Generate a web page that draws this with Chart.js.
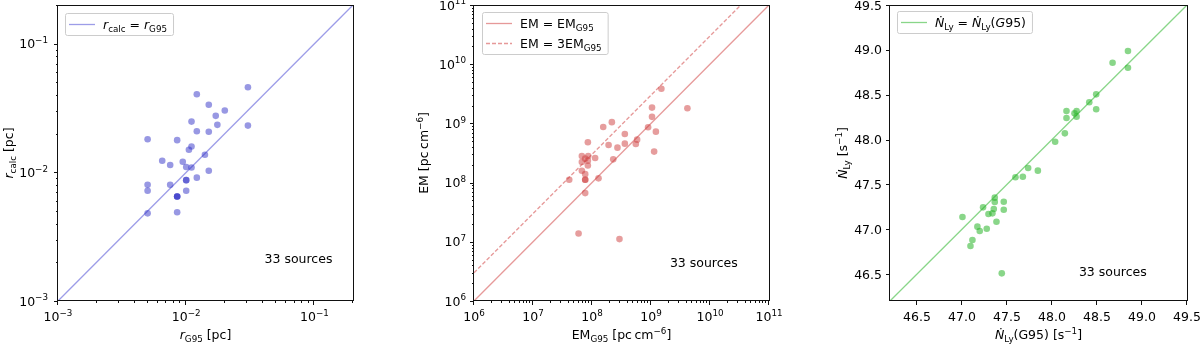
<!DOCTYPE html>
<html>
<head>
<meta charset="utf-8">
<script src="https://cdn.jsdelivr.net/npm/chart.js@4.4.0/dist/chart.umd.min.js"></script>
<style>
html, body { margin: 0; padding: 0; background: #fff; }
#wrap { position: relative; width: 1200px; height: 344px; }
canvas { position: absolute; top: 0; }
</style>
</head>
<body>
<div id="wrap">
<canvas id="c1" width="400" height="344" style="left:0px"></canvas>
<canvas id="c2" width="400" height="344" style="left:400px"></canvas>
<canvas id="c3" width="400" height="344" style="left:800px"></canvas>
</div>
<script>
// ---- panel 1: radius [pc]
const rG95 = [0.0303, 0.0303, 0.0121, 0.0150, 0.0200, 0.0170, 0.0175, 0.0110, 0.0121, 0.0150,
              0.0050, 0.0085, 0.0110, 0.0105, 0.0140, 0.0065, 0.0075, 0.0094, 0.0100, 0.0110,
              0.0150, 0.0121, 0.0100, 0.0100, 0.0050, 0.0075, 0.0050, 0.0100, 0.0085, 0.0085,
              0.0085, 0.0050, 0.0085];
const rCalc = [0.0459, 0.0231, 0.0405, 0.0335, 0.0303, 0.0275, 0.0234, 0.0248, 0.0209, 0.0207,
               0.0181, 0.0178, 0.0159, 0.0150, 0.0137, 0.0123, 0.0114, 0.0121, 0.0110, 0.0109,
               0.0103, 0.0091, 0.0087, 0.0087, 0.0080, 0.0080, 0.0072, 0.0072, 0.0065, 0.0065,
               0.0065, 0.0048, 0.0049];
const rTicks = [1e-3, 1e-2, 1e-1];
const rTickLabels = ['10^\u22123', '10^\u22122', '10^\u22121'];

// ---- panel 2: emission measure [pc cm^-6]
const emG95 = [1.50e9, 1.04e9, 4.14e9, 1.04e9, 2.17e8, 1.55e8, 8.93e8, 1.21e9, 3.60e8, 8.51e7,
               1.91e8, 3.60e8, 5.53e8, 5.82e8, 2.70e8, 1.13e9, 6.73e7, 8.63e7, 1.13e8, 7.67e7,
               8.51e7, 6.73e7, 8.51e7, 6.73e7, 7.67e7, 4.11e7, 7.67e7, 7.67e7, 1.29e8, 7.67e7,
               2.29e8, 5.92e7, 2.92e8];
const emCalc = [3.84e9, 1.85e9, 1.80e9, 1.29e9, 1.05e9, 8.70e8, 8.60e8, 7.26e8, 6.64e8, 4.80e8,
                4.32e8, 4.55e8, 4.49e8, 5.32e8, 3.89e8, 3.34e8, 2.81e8, 2.81e8, 2.60e8, 2.54e8,
                2.35e8, 2.23e8, 1.95e8, 1.59e8, 1.39e8, 1.12e8, 1.12e8, 1.12e8, 1.18e8, 6.65e7,
                2.47e8, 1.38e7, 1.11e7];
const emTicks = [1e6, 1e7, 1e8, 1e9, 1e10, 1e11];
const emTickLabels = ['10^6', '10^7', '10^8', '10^9', '10^10', '10^11'];

// ---- panel 3: log Lyman continuum rate [s^-1]
const nlyG95 = [48.844, 48.844, 48.673, 48.491, 48.414, 48.491, 48.161, 48.161, 48.273, 48.250,
                48.273, 48.143, 48.035, 47.843, 47.735, 47.676, 47.594, 47.364, 47.364, 47.464,
                47.234, 47.353, 47.464, 47.294, 47.338, 47.383, 47.005, 47.171, 47.197, 47.275,
                47.116, 47.094, 47.442];
const nlyCalc = [48.987, 48.801, 48.857, 48.504, 48.415, 48.337, 48.318, 48.240, 48.318, 48.292,
                 48.255, 48.069, 47.976, 47.653, 47.683, 47.586, 47.579, 47.352, 47.304, 47.307,
                 47.244, 47.226, 47.218, 47.170, 47.177, 47.084, 47.136, 47.029, 46.980, 47.006,
                 46.880, 46.813, 46.508];
const nlyTicks = [46.5, 47.0, 47.5, 48.0, 48.5, 49.0, 49.5];
const nlyTickLabels = ['46.5', '47.0', '47.5', '48.0', '48.5', '49.0', '49.5'];

const FONT = '"DejaVu Sans", sans-serif';
const FS = 12.5;

// rich text pieces: italic, subscript, superscript
const T = t => ({ t: t });
const I = t => ({ t: t, it: true });
const SUB = t => ({ t: t, sub: true });
const SUP = t => ({ t: t, sup: true });

// "10^-3" -> base + superscript
let tickParts = function(s) {
    let bits = s.split('^');
    return bits.length > 1 ? [T(bits[0]), SUP(bits[1])] : [T(s)];
}

let partFont = function(p) {
    let size = (p.sub || p.sup) ? FS * 0.7 : FS;
    return (p.it ? 'italic ' : '') + size + 'px ' + FONT;
}

let richWidth = function(ctx, parts) {
    let w = 0;
    for (let p of parts) {
        ctx.font = partFont(p);
        w += ctx.measureText(p.t).width;
    }
    return w;
}

let drawRich = function(ctx, parts, x, y) {
    ctx.textBaseline = 'alphabetic';
    ctx.textAlign = 'left';
    for (let p of parts) {
        ctx.font = partFont(p);
        let dy = p.sub ? FS * 0.25 : (p.sup ? -FS * 0.42 : 0);
        ctx.fillText(p.t, x, y + dy);
        x += ctx.measureText(p.t).width;
    }
}

let logMinors = function(min, max) {
    let out = [];
    for (let d = Math.floor(Math.log10(min)); Math.pow(10, d) <= max; d++) {
        for (let m = 2; m <= 9; m++) {
            let v = m * Math.pow(10, d);
            if (v >= min * 0.999 && v <= max * 1.001) out.push(v);
        }
    }
    return out;
}

let decoPlugin = {
    id: 'deco',
    afterDraw: function(chart) {
        let o = chart.options.plugins.deco;
        let ctx = chart.ctx;
        let a = chart.chartArea;
        let xs = chart.scales.x, ys = chart.scales.y;
        ctx.save();

        // frame
        ctx.strokeStyle = '#111';
        ctx.lineWidth = 1;
        ctx.strokeRect(Math.round(a.left) - 0.5, Math.round(a.top) + 0.5,
                       Math.round(a.right - a.left) + 1, Math.round(a.bottom - a.top) - 1);

        // ticks
        let tick = function(scale, v, len) {
            ctx.beginPath();
            if (scale === xs) {
                let p = Math.round(xs.getPixelForValue(v)) - 0.5;
                ctx.moveTo(p, a.bottom); ctx.lineTo(p, a.bottom + len);
            } else {
                let p = Math.round(ys.getPixelForValue(v)) + 0.5;
                ctx.moveTo(a.left, p); ctx.lineTo(a.left - len, p);
            }
            ctx.stroke();
        }
        for (let s of [xs, ys]) {
            for (let v of o.majors) tick(s, v, 4);
            if (o.log) for (let v of logMinors(s.min, s.max)) tick(s, v, 2);
        }

        // tick labels
        ctx.fillStyle = '#000';
        o.majors.forEach(function(v, i) {
            let parts = tickParts(o.labels[i]);
            let w = richWidth(ctx, parts);
            drawRich(ctx, parts, xs.getPixelForValue(v) - w / 2, a.bottom + 20);
            drawRich(ctx, parts, a.left - o.ypad - w, ys.getPixelForValue(v) + FS * 0.36);
        });

        // axis titles
        let w = richWidth(ctx, o.xtitle);
        drawRich(ctx, o.xtitle, (a.left + a.right) / 2 - w / 2, 339);
        w = richWidth(ctx, o.ytitle);
        ctx.save();
        ctx.translate(a.left + o.ytitleX, (a.top + a.bottom) / 2);
        ctx.rotate(-Math.PI / 2);
        drawRich(ctx, o.ytitle, -w / 2, FS * 0.38);
        ctx.restore();

        // note
        drawRich(ctx, [T('33 sources')], a.left + o.note[0] * (a.right - a.left),
                 a.bottom - o.note[1] * (a.bottom - a.top) + FS * 0.38);

        // legend
        let rows = o.legend;
        let tw = Math.max(...rows.map(r => richWidth(ctx, r.parts)));
        let bx = a.left + o.legendAt[0], by = a.top + o.legendAt[1];
        let bw = 38 + tw + 6, bh = 2 + rows.length * 20;
        ctx.fillStyle = 'rgba(255,255,255,0.8)';
        ctx.strokeStyle = '#cccccc';
        ctx.beginPath();
        ctx.roundRect(bx + 0.5, by + 0.5, bw, bh, 2);
        ctx.fill();
        ctx.stroke();
        rows.forEach(function(r, i) {
            let cy = by + 11 + i * 20;
            ctx.strokeStyle = o.lineColor;
            ctx.lineWidth = 1.3;
            ctx.setLineDash(r.dash ? [4, 2] : []);
            ctx.beginPath();
            ctx.moveTo(bx + 4, cy + 0.5); ctx.lineTo(bx + 30, cy + 0.5);
            ctx.stroke();
            ctx.setLineDash([]);
            ctx.fillStyle = '#000';
            drawRich(ctx, r.parts, bx + 38, cy + FS * 0.38);
        });
        ctx.restore();
    }
}

let makePanel = function(id, cfg) {
    let axis = function(which) {
        let ax = {
            type: cfg.type,
            min: cfg.min,
            max: cfg.max,
            grid: { display: false },
            border: { display: false },
            ticks: { display: false },
            afterBuildTicks: function(scale) {
                scale.ticks = cfg.majors.map(v => ({ value: v }));
            }
        };
        if (which === 'x') {
            ax.afterFit = function(scale) { scale.height = 344 - 301; };
        } else {
            ax.afterFit = function(scale) { scale.width = cfg.left; };
        }
        return ax;
    }
    return new Chart(document.getElementById(id), {
        type: 'scatter',
        data: {
            datasets: [
                {
                    data: cfg.xs.map((x, i) => ({ x: x, y: cfg.ys[i] })),
                    pointBackgroundColor: cfg.pointColor,
                    pointBorderWidth: 0,
                    pointRadius: 3.3,
                    order: 1
                }
            ].concat(cfg.lines.map(l => ({
                data: l.data,
                showLine: true,
                pointRadius: 0,
                borderColor: cfg.lineColor,
                borderWidth: 1.3,
                borderDash: l.dash ? [4, 2] : [],
                order: 2
            })))
        },
        options: {
            responsive: false,
            animation: false,
            devicePixelRatio: 1,
            layout: { padding: { left: 0, top: 5, right: 400 - cfg.right, bottom: 0 } },
            scales: { x: axis('x'), y: axis('y') },
            plugins: {
                legend: { display: false },
                tooltip: { enabled: false },
                deco: {
                    majors: cfg.majors,
                    labels: cfg.labels,
                    ypad: cfg.ypad,
                    log: cfg.type === 'logarithmic',
                    xtitle: cfg.xtitle,
                    ytitle: cfg.ytitle,
                    ytitleX: cfg.ytitleX,
                    note: cfg.note,
                    legend: cfg.legend,
                    legendAt: cfg.legendAt,
                    lineColor: cfg.lineColor
                }
            }
        },
        plugins: [decoPlugin]
    });
}

makePanel('c1', {
    type: 'logarithmic', min: 1e-3, max: 0.2,
    majors: rTicks, labels: rTickLabels,
    xs: rG95, ys: rCalc,
    left: 58, right: 353, ypad: 10,
    pointColor: 'rgba(50,50,200,0.5)', lineColor: 'rgba(60,60,210,0.5)',
    lines: [{ data: [{ x: 1e-3, y: 1e-3 }, { x: 0.2, y: 0.2 }] }],
    xtitle: [I('r'), SUB('G95'), T(' [pc]')],
    ytitle: [I('r'), SUB('calc'), T(' [pc]')],
    ytitleX: -50,
    note: [0.70, 0.145],
    legend: [{ parts: [I('r'), SUB('calc'), T(' = '), I('r'), SUB('G95')] }],
    legendAt: [7, 8]
});

makePanel('c2', {
    type: 'logarithmic', min: 1e6, max: 1e11,
    majors: emTicks, labels: emTickLabels,
    xs: emG95, ys: emCalc,
    left: 74, right: 369, ypad: 8,
    pointColor: 'rgba(205,60,60,0.5)', lineColor: 'rgba(210,70,70,0.55)',
    lines: [
        { data: [{ x: 1e6, y: 1e6 }, { x: 1e11, y: 1e11 }] },
        { data: [{ x: 1e6, y: 3e6 }, { x: 1e11 / 3, y: 1e11 }], dash: true }
    ],
    xtitle: [T('EM'), SUB('G95'), T(' [pc\u2009cm'), SUP('\u22126'), T(']')],
    ytitle: [T('EM [pc\u2009cm'), SUP('\u22126'), T(']')],
    ytitleX: -51,
    note: [0.664, 0.13],
    legend: [
        { parts: [T('EM = EM'), SUB('G95')] },
        { parts: [T('EM = 3EM'), SUB('G95')], dash: true }
    ],
    legendAt: [8, 7]
});

makePanel('c3', {
    type: 'linear', min: 46.2, max: 49.5,
    majors: nlyTicks, labels: nlyTickLabels,
    xs: nlyG95, ys: nlyCalc,
    left: 90, right: 387, ypad: 8,
    pointColor: 'rgba(40,180,40,0.55)', lineColor: 'rgba(40,180,40,0.55)',
    lines: [{ data: [{ x: 46.2, y: 46.2 }, { x: 49.5, y: 49.5 }] }],
    xtitle: [I('\u1E44'), SUB('Ly'), T('(G95) [s'), SUP('\u22121'), T(']')],
    ytitle: [I('\u1E44'), SUB('Ly'), T(' [s'), SUP('\u22121'), T(']')],
    ytitleX: -48,
    note: [0.636, 0.10],
    legend: [{ parts: [I('\u1E44'), SUB('Ly'), T(' = '), I('\u1E44'), SUB('Ly'), T('('), I('G'), T('95)')] }],
    legendAt: [7, 6]
});
</script>
</body>
</html>
